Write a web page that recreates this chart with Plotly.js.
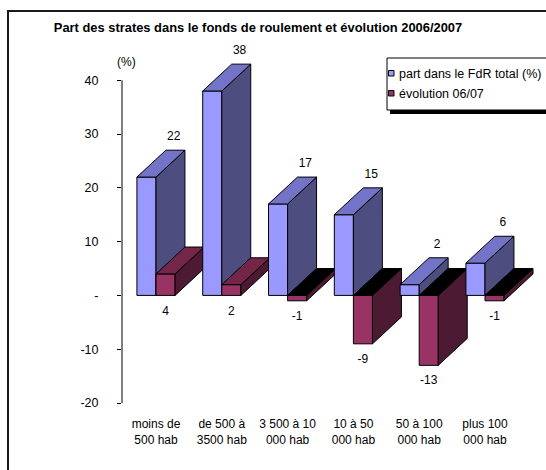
<!DOCTYPE html>
<html><head><meta charset="utf-8">
<script src="https://cdn.plot.ly/plotly-3.0.1.min.js"></script>
<style>html,body{margin:0;padding:0;background:#fff}#chart{width:546px;height:470px}</style>
</head><body><div id="chart"></div>
<script>
// ---- data ----
const categories = ['moins de<br>500 hab', 'de 500 à<br>3500 hab', '3 500 à 10<br>000 hab', '10 à 50<br>000 hab', '50 à 100<br>000 hab', 'plus 100<br>000 hab'];
const partFdR = [22, 38, 17, 15, 2, 6];
const evolution = [4, 2, -1, -9, -13, -1];
const seriesNames = ['part dans le FdR total (%)', 'évolution 06/07'];
const yTickVals = [-20, -10, 0, 10, 20, 30, 40];
const yTickText = ['-20', '-10', '-', '10', '20', '30', '40'];
const titleText = 'Part des strates dans le fonds de roulement et évolution 2006/2007';

// ---- style ----
const FONT = 'Liberation Sans, Arial, sans-serif';
const W = 0.29, DX = 0.44, DY = 5.0;
const blueCol = {front: '#9999FF', top: '#7373C7', side: '#4D4D80'};
const redCol = {front: '#993366', top: '#732648', side: '#4D1A33'};
const M = {l: 122, r: 10, t: 48, b: 67};
const FW = 546, FH = 470;
const PW = FW - M.l - M.r, PH = FH - M.t - M.b;
const px = x => (x - M.l) / PW;
const py = y => (FH - M.b - y) / PH;

function face(xs, ys, color) {
  return {type: 'scatter', mode: 'lines', x: xs.concat([xs[0]]), y: ys.concat([ys[0]]),
    fill: 'toself', fillcolor: color, line: {color: '#000', width: 1},
    hoverinfo: 'skip', showlegend: false};
}
function bar3d(x0, v, col) {
  const x1 = x0 + W, lo = Math.min(0, v), hi = Math.max(0, v);
  return [
    face([x0, x1, x1, x0], [lo, lo, hi, hi], col.front),
    face([x1, x1 + DX, x1 + DX, x1], [lo, lo + DY, hi + DY, hi], col.side),
    face([x0, x1, x1 + DX, x0 + DX], [hi, hi, hi + DY, hi + DY], v >= 0 ? col.top : '#000000')
  ];
}

const traces = [];
categories.forEach((c, i) => {
  traces.push(...bar3d(i - W, partFdR[i], blueCol));
  traces.push(...bar3d(i, evolution[i], redCol));
});
traces.push({type: 'scatter', mode: 'text', x: partFdR.map((v, i) => i + 0.27), y: partFdR.map(v => v + 7.4),
  text: partFdR.map(String), textfont: {family: FONT, size: 12, color: '#000'}, cliponaxis: false,
  hoverinfo: 'skip', showlegend: false});
traces.push({type: 'scatter', mode: 'text', x: evolution.map((v, i) => i + W / 2), y: evolution.map(v => Math.min(v, 0) - 3),
  text: evolution.map(String), textfont: {family: FONT, size: 12, color: '#000'}, cliponaxis: false,
  hoverinfo: 'skip', showlegend: false});

const shapes = [
  // outer frame
  {type: 'rect', xref: 'paper', yref: 'paper', x0: px(8), x1: px(560), y0: py(11), y1: py(480), line: {color: '#1a1a1a', width: 2}, layer: 'below'},
  // y axis line
  {type: 'line', xref: 'paper', yref: 'y', x0: 0, x1: 0, y0: -20, y1: 40, line: {color: '#000', width: 1}},
  // legend shadow + box
  {type: 'rect', xref: 'paper', yref: 'paper', x0: px(390), x1: px(560), y0: py(61), y1: py(114), fillcolor: '#000', line: {width: 0}},
  {type: 'rect', xref: 'paper', yref: 'paper', x0: px(387), x1: px(556), y0: py(58), y1: py(110), fillcolor: '#fff', line: {color: '#000', width: 1}},
  {type: 'rect', xref: 'paper', yref: 'paper', x0: px(388.5), x1: px(394), y0: py(70.5), y1: py(76), fillcolor: blueCol.front, line: {color: '#000', width: 1}},
  {type: 'rect', xref: 'paper', yref: 'paper', x0: px(388.5), x1: px(394), y0: py(90.5), y1: py(96), fillcolor: redCol.front, line: {color: '#000', width: 1}}
];
const annotations = [
  {xref: 'paper', yref: 'paper', x: px(126), y: py(62), text: '(%)', showarrow: false, xanchor: 'center', yanchor: 'middle', font: {family: FONT, size: 12, color: '#000'}},
  {xref: 'paper', yref: 'paper', x: px(397), y: py(73.5), text: seriesNames[0], showarrow: false, xanchor: 'left', yanchor: 'middle', font: {family: FONT, size: 12.5, color: '#000'}},
  {xref: 'paper', yref: 'paper', x: px(397), y: py(93.5), text: seriesNames[1], showarrow: false, xanchor: 'left', yanchor: 'middle', font: {family: FONT, size: 12.5, color: '#000'}}
];

const layout = {
  width: FW, height: FH, margin: M, paper_bgcolor: '#fff', plot_bgcolor: '#fff', showlegend: false,
  font: {family: FONT, size: 12, color: '#000'},
  title: {text: '<b>' + titleText + '</b>', x: 258 / FW, xanchor: 'center', y: 1 - 27 / FH, yanchor: 'middle', font: {family: FONT, size: 12.9, color: '#000'}},
  xaxis: {range: [-34 / 65.8, -34 / 65.8 + PW / 65.8], tickvals: categories.map((c, i) => i), ticktext: categories,
    showgrid: false, zeroline: false, showline: false, ticks: '', tickfont: {family: FONT, size: 12}, ticklabelstandoff: 12, fixedrange: true},
  yaxis: {range: [-20, 46], tickvals: yTickVals, ticktext: yTickText, showgrid: false, zeroline: false, showline: false,
    ticks: 'outside', ticklen: 4, tickcolor: '#000', tickwidth: 1, tickfont: {family: FONT, size: 12.5}, ticklabelstandoff: 16, fixedrange: true},
  shapes: shapes, annotations: annotations
};
Plotly.newPlot('chart', traces, layout, {displayModeBar: false, staticPlot: true});
</script></body></html>
